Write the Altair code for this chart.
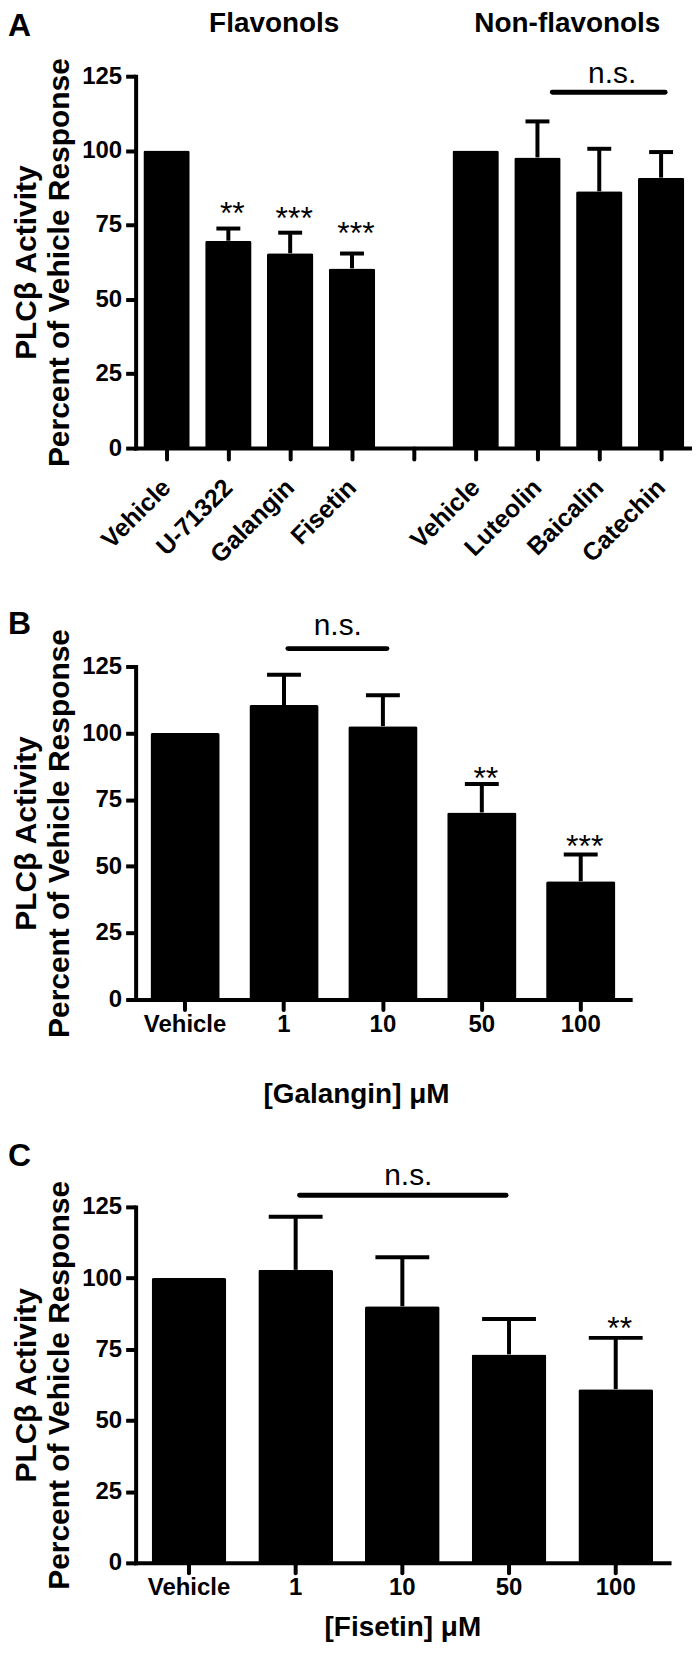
import altair as alt
import pandas as pd

FONT = "Liberation Sans"

# ---------------- data ----------------
panel_letters = ["A", "B", "C"]
group_titles = ["Flavonols", "Non-flavonols"]
y_axis_title = ["PLCβ Activity", "Percent of Vehicle Response"]
y_tick_values = [0, 25, 50, 75, 100, 125]
ns_label = "n.s."

# Panel A
a_axis_slots = ["Vehicle", "U-71322", "Galangin", "Fisetin", " ", "Vehicle ", "Luteolin", "Baicalin", "Catechin"]
a_groups = ["Vehicle", "U-71322", "Galangin", "Fisetin", "Vehicle ", "Luteolin", "Baicalin", "Catechin"]
a_mean = [100.0, 69.7, 65.5, 60.4, 100.0, 97.7, 86.3, 90.9]
a_sem = [0.0, 4.1, 6.9, 5.0, 0.0, 12.1, 14.3, 8.6]
a_sig_groups = ["U-71322", "Galangin", "Fisetin"]
a_sig_text = ["**", "***", "***"]
a_sig_level = [81.3, 79.8, 74.8]
a_ns_span = ["Luteolin", "Catechin"]
a_ns_level = [119.6, 125.5]

# Panel B
b_doses = ["Vehicle", "1", "10", "50", "100"]
b_mean = [100.0, 110.5, 102.6, 70.2, 44.4]
b_sem = [0.0, 11.4, 11.6, 10.7, 10.0]
b_sig_groups = ["50", "100"]
b_sig_text = ["**", "***"]
b_sig_level = [85.8, 60.2]
b_ns_span = ["1", "10"]
b_ns_level = [131.7, 139.8]
b_x_title = "[Galangin] μM"

# Panel C
c_doses = ["Vehicle", "1", "10", "50", "100"]
c_mean = [100.0, 102.9, 90.1, 73.2, 61.0]
c_sem = [0.0, 18.6, 17.2, 12.4, 18.0]
c_sig_groups = ["100"]
c_sig_text = ["**"]
c_sig_level = [84.9]
c_ns_span = ["1", "50"]
c_ns_level = [129.1, 135.4]
c_x_title = "[Fisetin] μM"

# ---------------- helpers ----------------
ONE = pd.DataFrame({"k": [0]})
LEFT = -128


def yscale():
    return alt.Scale(domain=[0, 125], nice=False, zero=True)


def pixel_text(text, x, y, size, align="left", weight="bold"):
    return alt.Chart(ONE).mark_text(
        text=text, fontSize=size, fontWeight=weight, align=align,
        baseline="alphabetic", color="black"
    ).encode(x=alt.value(x), y=alt.value(y))


def build_panel(slots, groups, mean, sem, sig_groups, sig_text, sig_level,
                ns_span, ns_level, width, height, pad, cap, x_axis, x_title,
                ns_offsets, ns_label_dx, bound_top, bound_bottom, extras):
    xscale = alt.Scale(domain=slots, paddingInner=pad, paddingOuter=pad / 2)
    df = pd.DataFrame({"g": groups, "m": mean, "s": sem})
    df["u"] = df["m"] + df["s"]
    err = df[df["s"] > 0]
    sig = pd.DataFrame({"g": sig_groups, "t": sig_text, "v": sig_level})
    ns = pd.DataFrame({"g": [ns_span[0]], "b": [ns_span[1]],
                       "v": [ns_level[0]], "lv": [ns_level[1]]})

    y_axis = alt.Axis(values=y_tick_values, titleAngle=270, titleBaseline="top",
                      titleAlign="center", titleX=LEFT + 4, titleY=height / 2,
                      titleFontSize=30, titleFontWeight="bold", titleLineHeight=33)

    def X(field):
        return alt.X(f"{field}:N", scale=xscale, title=x_title)

    def Y(field):
        return alt.Y(f"{field}:Q", scale=yscale(), title=y_axis_title)

    bars = alt.Chart(df).mark_bar(color="black", cornerRadius=2).encode(
        x=alt.X("g:N", scale=xscale, axis=x_axis, title=x_title),
        y=alt.Y("m:Q", scale=yscale(), axis=y_axis, title=y_axis_title),
    )
    stems = alt.Chart(err).mark_rule(color="black", strokeWidth=4).encode(
        x=X("g"), y=Y("m"), y2=alt.Y2("u"),
    )
    caps = alt.Chart(err).mark_tick(color="black", opacity=1, thickness=4, size=cap).encode(
        x=X("g"), y=Y("u"),
    )
    stars = alt.Chart(sig).mark_text(fontSize=32, dx=4, dy=18, baseline="alphabetic",
                                     align="center", color="black").encode(
        x=X("g"), y=Y("v"), text="t:N",
    )
    ns_rule = alt.Chart(ns).mark_rule(color="black", strokeWidth=5, strokeCap="round",
                                      xOffset=ns_offsets[0], x2Offset=ns_offsets[1]).encode(
        x=X("g"), x2=alt.X2("b"), y=Y("v"),
    )
    ns_text = alt.Chart(ns).mark_text(text=ns_label, fontSize=30, dx=ns_label_dx, dy=8,
                                      baseline="alphabetic", align="center",
                                      color="black").encode(
        x=X("g"), y=Y("lv"),
    )
    vb = alt.Chart(ONE).mark_rule(opacity=0).encode(
        x=alt.value(0), y=alt.value(bound_top), y2=alt.value(bound_bottom))
    hb = alt.Chart(ONE).mark_rule(opacity=0).encode(
        x=alt.value(LEFT), x2=alt.value(0), y=alt.value(height / 2))

    return alt.layer(bars, stems, caps, stars, ns_rule, ns_text, vb, hb, *extras).properties(
        width=width, height=height)


# ---------------- panels ----------------
axis_a = alt.Axis(labelAngle=-45, labelAlign="right", labelBaseline="middle",
                  labelPadding=24, labelFontSize=25, tickSize=11,
                  labelOverlap=False, labelBound=False, labelFlush=False)

panel_a = build_panel(
    a_axis_slots, a_groups, a_mean, a_sem, a_sig_groups, a_sig_text, a_sig_level,
    a_ns_span, a_ns_level, width=558, height=373, pad=0.25, cap=24,
    x_axis=axis_a, x_title=None, ns_offsets=[15, 4], ns_label_dx=75,
    bound_top=-66, bound_bottom=526,
    extras=[pixel_text(panel_letters[0], LEFT, -40, 32),
            pixel_text(group_titles[0], 139, -44, 28, align="center"),
            pixel_text(group_titles[1], 433, -44, 28, align="center")],
)


def dose_axis(title_x, title_y):
    return alt.Axis(labelAngle=0, labelAlign="center", labelBaseline="top",
                    labelPadding=3, labelFontSize=24, tickSize=10,
                    titleX=title_x, titleY=title_y, titleBaseline="alphabetic",
                    titleAlign="center", titleAngle=0, titleFontSize=28,
                    titleFontWeight="bold", labelOverlap=False)


panel_b = build_panel(
    b_doses, b_doses, b_mean, b_sem, b_sig_groups, b_sig_text, b_sig_level,
    b_ns_span, b_ns_level, width=496, height=334, pad=0.30, cap=34,
    x_axis=dose_axis(221, 103), x_title=b_x_title, ns_offsets=[4, 4], ns_label_dx=54,
    bound_top=-66, bound_bottom=459,
    extras=[pixel_text(panel_letters[1], LEFT, -33, 32)],
)

panel_c = build_panel(
    c_doses, c_doses, c_mean, c_sem, c_sig_groups, c_sig_text, c_sig_level,
    c_ns_span, c_ns_level, width=535, height=357, pad=0.30, cap=54,
    x_axis=dose_axis(267.5, 73), x_title=c_x_title, ns_offsets=[4, -3], ns_label_dx=113,
    bound_top=-83, bound_bottom=437,
    extras=[pixel_text(panel_letters[2], LEFT, -41, 32)],
)

chart = (
    alt.vconcat(panel_a, panel_b, panel_c, spacing=0)
    .properties(padding=0)
    .configure(font=FONT)
    .configure_view(stroke=None)
    .configure_axis(domainColor="black", domainWidth=4, tickColor="black", tickWidth=4,
                    labelColor="black", labelFontWeight="bold", labelFont=FONT,
                    titleFont=FONT, titleColor="black", grid=False, domainCap="square")
    .configure_axisY(tickSize=10, labelPadding=4, labelFontSize=24)
    .configure_axisX(tickCap="round")
)

chart.save("out.html", embed_options={"renderer": "svg", "actions": False})
